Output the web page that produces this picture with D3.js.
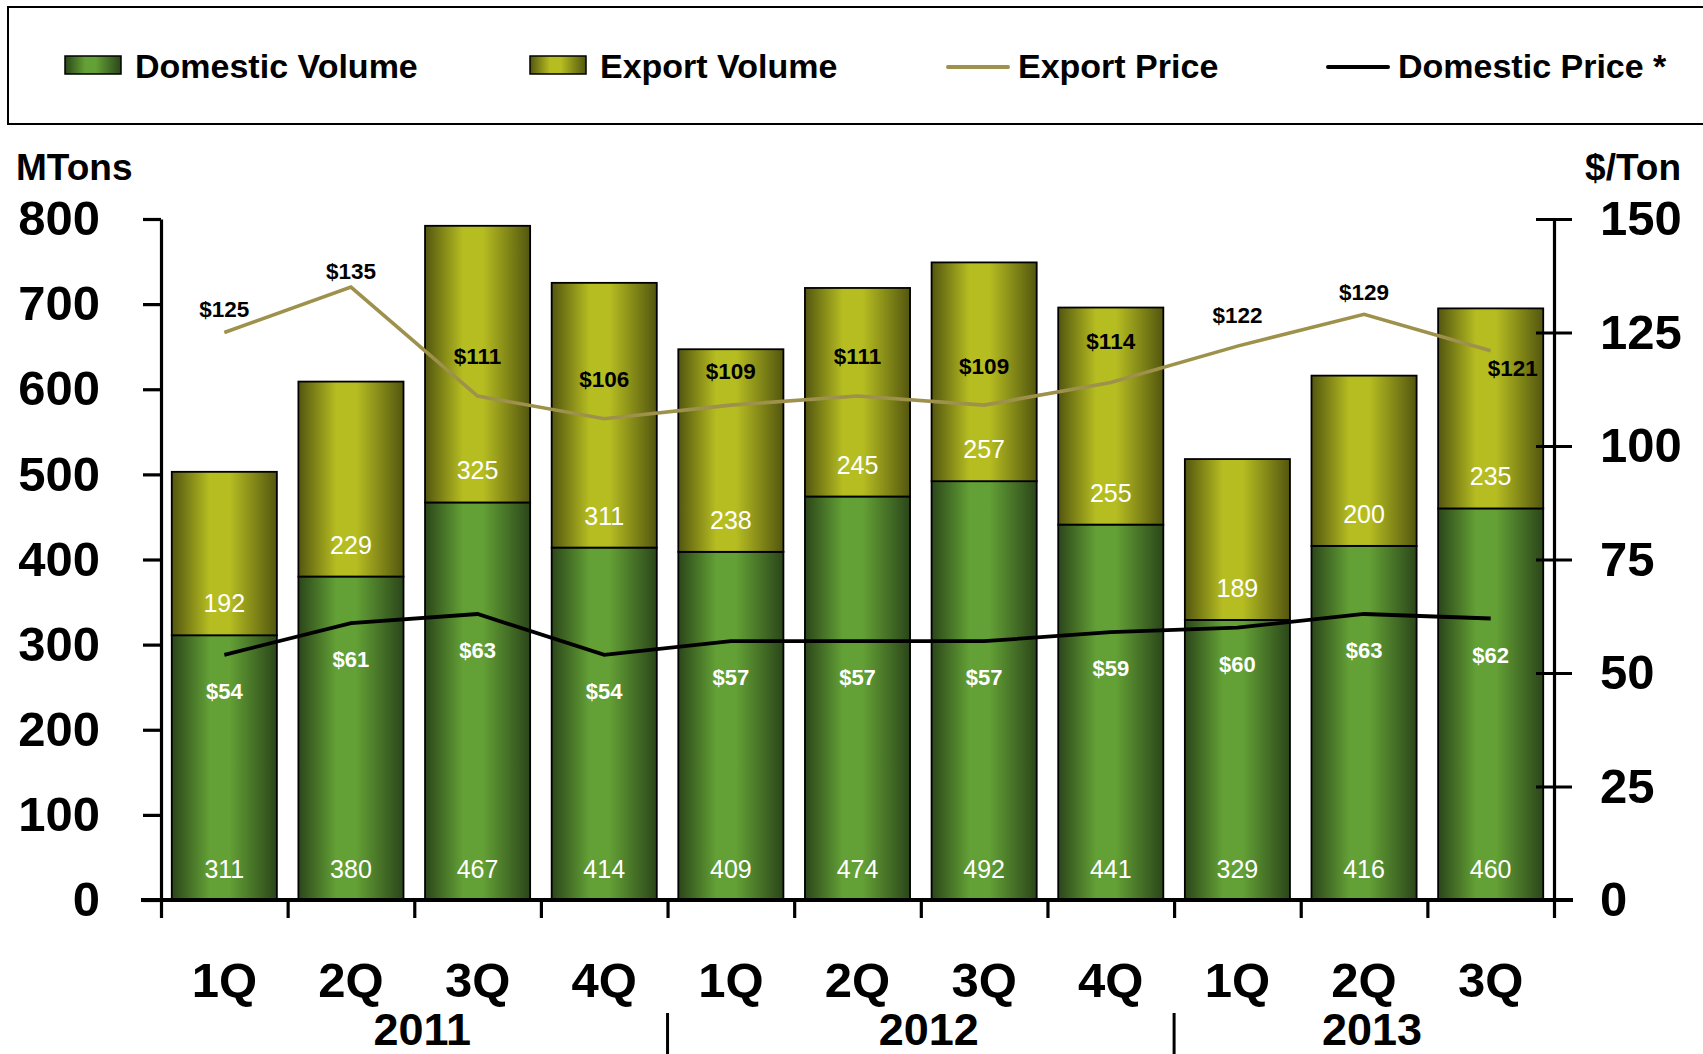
<!DOCTYPE html>
<html>
<head>
<meta charset="utf-8">
<script src="https://cdn.jsdelivr.net/npm/d3@7"></script>
<style>
  html, body { margin: 0; padding: 0; background: #fff; }
  svg { display: block; }
  text { font-family: "Liberation Sans", Arial, Helvetica, sans-serif; }
</style>
</head>
<body>
<svg id="chart" width="1703" height="1054"></svg>
<script>
// Quarterly volumes (MTons) and prices ($/Ton)
const quarters = ["1Q", "2Q", "3Q", "4Q", "1Q", "2Q", "3Q", "4Q", "1Q", "2Q", "3Q"];
const years = [
  { label: "2011", from: 0, to: 4 },
  { label: "2012", from: 4, to: 8 },
  { label: "2013", from: 8, to: 11 }
];
const domesticVolume = [311, 380, 467, 414, 409, 474, 492, 441, 329, 416, 460];
const exportVolume   = [192, 229, 325, 311, 238, 245, 257, 255, 189, 200, 235];
const exportPrice    = [125, 135, 111, 106, 109, 111, 109, 114, 122, 129, 121];
const domesticPrice  = [54, 61, 63, 54, 57, 57, 57, 59, 60, 63, 62];

const volumeTicks = [0, 100, 200, 300, 400, 500, 600, 700, 800];
const priceTicks  = [0, 25, 50, 75, 100, 125, 150];

// Hand placement of the export-price labels relative to their points
const exportLabelShift = [
  [0, -16], [0, -8], [0, -32], [0, -32], [0, -26], [0, -32],
  [0, -31], [0, -33], [0, -23], [0, -14], [22, 25]
];

const svg = d3.select("#chart");
const font = '"Liberation Sans", Arial, Helvetica, sans-serif';

const plot = { left: 161, right: 1554, top: 219, bottom: 900 };
const idx = d3.range(quarters.length);

const x = d3.scaleBand()
  .domain(idx)
  .range([plot.left, plot.right])
  .paddingInner(0.17)
  .paddingOuter(0.085);
const xEdge = d3.scaleLinear().domain([0, quarters.length]).range([plot.left, plot.right]);
const yL = d3.scaleLinear().domain([0, 800]).range([plot.bottom, plot.top]);
const yR = d3.scaleLinear().domain([0, 150]).range([plot.bottom, plot.top]);
const cx = i => x(i) + x.bandwidth() / 2;

// Gradients for the cylinder-like bars
const defs = svg.append("defs");
function addGradient(id, dark, light) {
  const g = defs.append("linearGradient").attr("id", id)
    .attr("x1", "0%").attr("x2", "100%").attr("y1", "0%").attr("y2", "0%");
  [[0, dark], [0.36, light], [0.55, light], [1, dark]].forEach(([o, c]) =>
    g.append("stop").attr("offset", o).attr("stop-color", c));
}
addGradient("gDomestic", "#2b461a", "#63a035");
addGradient("gExport", "#53560f", "#b6bd21");

// Legend box (right side runs off the page edge)
svg.append("rect")
  .attr("x", 8).attr("y", 7).attr("width", 1705).attr("height", 117)
  .attr("fill", "none").attr("stroke", "#000").attr("stroke-width", 2);

const legendItems = [
  { type: "bar", fill: "url(#gDomestic)", label: "Domestic Volume", x: 65 },
  { type: "bar", fill: "url(#gExport)", label: "Export Volume", x: 530 },
  { type: "line", stroke: "#9d914c", label: "Export Price", x: 948 },
  { type: "line", stroke: "#000", label: "Domestic Price *", x: 1328 }
];
const legend = svg.append("g");
legendItems.forEach(it => {
  if (it.type === "bar") {
    legend.append("rect").attr("x", it.x).attr("y", 56).attr("width", 56).attr("height", 18)
      .attr("fill", it.fill).attr("stroke", "#000").attr("stroke-width", 1.5);
  } else {
    legend.append("line").attr("x1", it.x).attr("x2", it.x + 60).attr("y1", 67).attr("y2", 67)
      .attr("stroke", it.stroke).attr("stroke-width", 4).attr("stroke-linecap", "round");
  }
  legend.append("text").attr("x", it.x + 70).attr("y", 78)
    .attr("font-size", 34).attr("font-weight", "bold").text(it.label);
});

// Stacked bars
const bars = svg.append("g");
idx.forEach(i => {
  const d = domesticVolume[i], e = exportVolume[i];
  bars.append("rect")
    .attr("x", x(i)).attr("width", x.bandwidth())
    .attr("y", yL(d)).attr("height", yL(0) - yL(d))
    .attr("fill", "url(#gDomestic)").attr("stroke", "#000").attr("stroke-width", 1.8);
  bars.append("rect")
    .attr("x", x(i)).attr("width", x.bandwidth())
    .attr("y", yL(d + e)).attr("height", yL(d) - yL(d + e))
    .attr("fill", "url(#gExport)").attr("stroke", "#000").attr("stroke-width", 1.8);
});

// Volume labels
const volLabels = svg.append("g").attr("fill", "#fff").attr("font-size", 25).attr("text-anchor", "middle");
idx.forEach(i => {
  volLabels.append("text").attr("x", cx(i)).attr("y", yL(0) - 22).text(domesticVolume[i]);
  volLabels.append("text").attr("x", cx(i)).attr("y", yL(domesticVolume[i]) - 23).text(exportVolume[i]);
});

// Axes
const leftAxis = svg.append("g")
  .attr("transform", `translate(${plot.left},0)`)
  .call(d3.axisLeft(yL).tickValues(volumeTicks).tickSize(18).tickSizeOuter(0).tickPadding(43));
const rightAxis = svg.append("g")
  .attr("transform", `translate(${plot.right},0)`)
  .call(d3.axisRight(yR).tickValues(priceTicks).tickSize(18).tickSizeOuter(0).tickPadding(28));
rightAxis.selectAll(".tick line").attr("x1", -18);
const bottomAxis = svg.append("g")
  .attr("transform", `translate(0,${plot.bottom})`)
  .call(d3.axisBottom(xEdge).tickValues(d3.range(quarters.length + 1)).tickSize(18).tickSizeOuter(0).tickFormat(""));

[leftAxis, rightAxis, bottomAxis].forEach(a => {
  a.select(".domain").attr("stroke", "#000").attr("stroke-width", 3.2);
  a.selectAll(".tick line").attr("stroke", "#000").attr("stroke-width", 3.2);
  a.selectAll(".tick text")
    .attr("font-family", font).attr("font-size", 49).attr("font-weight", "bold").attr("fill", "#000");
});
bottomAxis.select(".domain").attr("d", `M${plot.left - 20},0H${plot.right + 19}`).attr("stroke-width", 4);

// Axis titles
svg.append("text").attr("x", 16).attr("y", 180)
  .attr("font-size", 37).attr("font-weight", "bold").text("MTons");
svg.append("text").attr("x", 1681).attr("y", 180).attr("text-anchor", "end")
  .attr("font-size", 37).attr("font-weight", "bold").text("$/Ton");

// Quarter and year labels
const cat = svg.append("g").attr("font-weight", "bold").attr("text-anchor", "middle");
idx.forEach(i => {
  cat.append("text").attr("x", cx(i)).attr("y", 997).attr("font-size", 49).text(quarters[i]);
});
years.forEach(yr => {
  cat.append("text").attr("x", (xEdge(yr.from) + xEdge(yr.to)) / 2 + 8).attr("y", 1045)
    .attr("font-size", 45).text(yr.label);
});
years.slice(1).forEach(yr => {
  svg.append("line").attr("x1", xEdge(yr.from)).attr("x2", xEdge(yr.from))
    .attr("y1", 1013).attr("y2", 1054).attr("stroke", "#000").attr("stroke-width", 3);
});

// Price lines
const line = d3.line().x((d, i) => cx(i)).y(d => yR(d));
svg.append("path").datum(exportPrice).attr("d", line)
  .attr("fill", "none").attr("stroke", "#9d914c").attr("stroke-width", 3.6);
svg.append("path").datum(domesticPrice).attr("d", line)
  .attr("fill", "none").attr("stroke", "#000").attr("stroke-width", 3.8);

// Price labels
const priceLabels = svg.append("g").attr("font-weight", "bold").attr("text-anchor", "middle");
idx.forEach(i => {
  priceLabels.append("text")
    .attr("x", cx(i) + exportLabelShift[i][0]).attr("y", yR(exportPrice[i]) + exportLabelShift[i][1])
    .attr("font-size", 22.5).attr("fill", "#000").text("$" + exportPrice[i]);
  priceLabels.append("text")
    .attr("x", cx(i)).attr("y", yR(domesticPrice[i]) + 44)
    .attr("font-size", 22).attr("fill", "#fff").text("$" + domesticPrice[i]);
});
</script>
</body>
</html>
